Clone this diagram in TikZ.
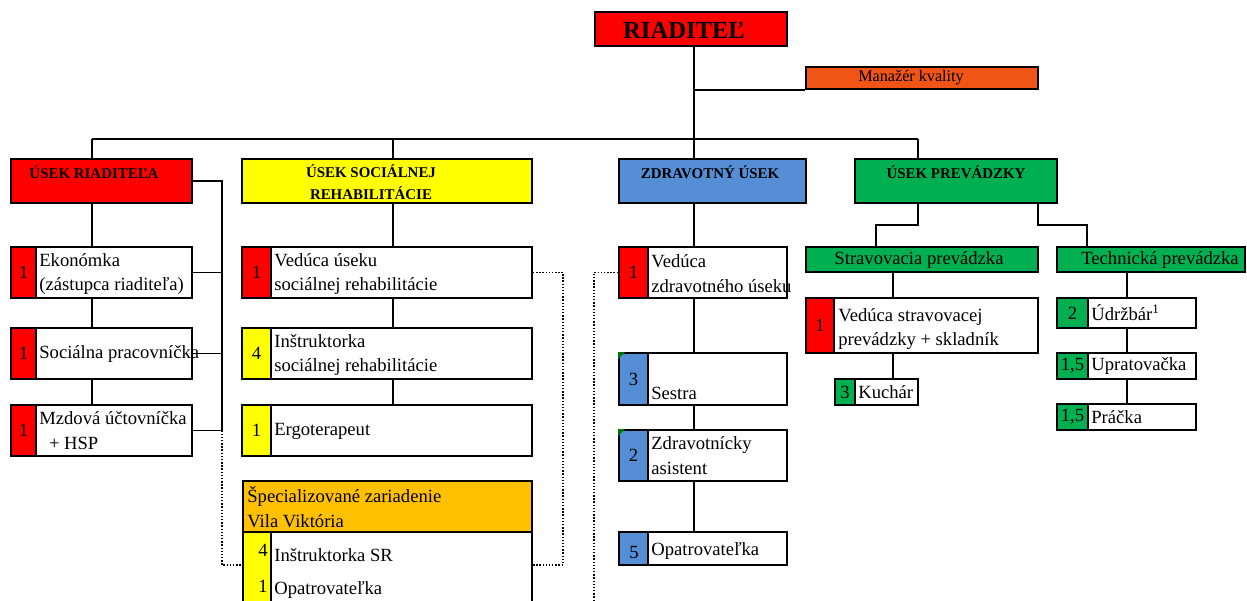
\documentclass[tikz,border=0pt]{standalone}
\usepackage{fontspec}
\setmainfont{Liberation Serif}
\usetikzlibrary{fit,positioning,calc}
\definecolor{cred}{RGB}{255,0,0}
\definecolor{cyellow}{RGB}{255,255,0}
\definecolor{cblue}{RGB}{85,142,213}
\definecolor{cgreen}{RGB}{0,176,80}
\definecolor{corange}{RGB}{240,84,22}
\definecolor{cgold}{RGB}{255,192,0}

\begin{document}
\begin{tikzpicture}[x=0.02cm, y=-0.02cm, font=\fontsize{10.6}{14.2}\selectfont,
  box/.style={draw,line width=1.1pt,inner sep=0pt,fill=white},
  strip/.style={draw,line width=1.1pt,inner sep=0pt,fill=#1},
  num/.style={inner sep=0pt},
  txt/.style={anchor=west,align=left,inner sep=0pt},
  head/.style={align=center,inner sep=0pt,font=\fontsize{8.5}{12.5}\selectfont\bfseries},
  link/.style={line width=1.1pt},
  dots/.style={densely dotted,line width=0.8pt}]
      \clip (0,0) rectangle (1247,600);

      \node[box,fill=cred,fit={(595,12) (787,46)}] (dir) {};
      \node[inner sep=0pt,font=\fontsize{14}{16}\selectfont\bfseries] (dirT) at (684,30) {RIADITEĽ};
      \node[box,fill=corange,fit={(806,67) (1038,89)}] (qm) {};
      \node[inner sep=0pt,font=\fontsize{9.2}{11}\selectfont] (qmT) at (911,78) {Manažér kvality};

      \node[box,fill=cred,fit={(11,159) (192,203)}] (usr) {};
      \node[head] (usrT) at (94,172) {ÚSEK RIADITEĽA};
      \node[box,fill=cyellow,fit={(242,159) (532,203)}] (uss) {};
      \node[head] (ussT) at (371,182) {ÚSEK SOCIÁLNEJ\\REHABILITÁCIE};
      \node[box,fill=cblue,fit={(619,159) (806,203)}] (usz) {};
      \node[head] (uszT) at (710,172) {ZDRAVOTNÝ ÚSEK};
      \node[box,fill=cgreen,fit={(855,159) (1057,203)}] (usp) {};
      \node[head] (uspT) at (956,172) {ÚSEK PREVÁDZKY};

      % usek riaditela
      \node[box,fit={(11,247) (192,298)}] (ekon) {};
      \node[strip=cred,fit={(11,247) (36,298)}] (ekonN) {};
      \node[num] (ekonL) at (ekonN) {1};
      \node[txt] (ekonT) at (39,274) {Ekonómka\\(zástupca riaditeľa)};
      \node[box,fit={(11,328) (192,379)}] (socp) {};
      \node[strip=cred,fit={(11,328) (36,379)}] (socpN) {};
      \node[num] (socpL) at (socpN) {1};
      \node[txt] (socpT) at (39,354) {Sociálna pracovníčka};
      \node[box,fit={(11,405) (192,456)}] (mzd) {};
      \node[strip=cred,fit={(11,405) (36,456)}] (mzdN) {};
      \node[num] (mzdL) at (mzdN) {1};
      \node[txt] (mzdT) at (39,431) {Mzdová účtovníčka\\\hspace*{5.5pt}+ HSP};

      % usek socialnej rehabilitacie
      \node[box,fit={(242,247) (532,298)}] (vsr) {};
      \node[strip=cred,fit={(242,247) (271,298)}] (vsrN) {};
      \node[num] (vsrL) at (vsrN) {1};
      \node[txt] (vsrT) at (274,274) {Vedúca úseku\\sociálnej rehabilitácie};
      \node[box,fit={(242,328) (532,379)}] (isr) {};
      \node[strip=cyellow,fit={(242,328) (271,379)}] (isrN) {};
      \node[num] (isrL) at (isrN) {4};
      \node[txt] (isrT) at (274,355) {Inštruktorka\\sociálnej rehabilitácie};
      \node[box,fit={(242,405) (532,456)}] (ergo) {};
      \node[strip=cyellow,fit={(242,405) (271,456)}] (ergoN) {};
      \node[num] (ergoL) at (ergoN) {1};
      \node[txt] (ergoT) at (274,431) {Ergoterapeut};

      \node[box,fill=cgold,fit={(243,481) (532,532)}] (vila) {};
      \node[txt] (vilaT) at (247,507) {Špecializované zariadenie\\Vila Viktória};
      \node[box,fit={(243,532) (532,620)}] (vilab) {};
      \node[strip=cyellow,fit={(243,532) (271,620)}] (vilaN) {};
      \node[txt,anchor=east] (vilaN1) at (268,550) {4};
      \node[txt,anchor=east] (vilaN2) at (268,586) {1};
      \node[txt] (vilaT1) at (274,555) {Inštruktorka SR};
      \node[txt] (vilaT2) at (274,590) {Opatrovateľka};

      % zdravotny usek
      \node[box,fit={(619,247) (787,298)}] (vzu) {};
      \node[strip=cred,fit={(619,247) (648,298)}] (vzuN) {};
      \node[num] (vzuL) at (vzuN) {1};
      \node[txt] (vzuT) at (651,274) {Vedúca\\zdravotného úseku};
      \node[box,fit={(619,353) (787,405)}] (ses) {};
      \node[strip=cblue,fit={(619,353) (648,405)}] (sesN) {};
      \node[num] (sesL) at (sesN) {3};
      \node[txt] (sesT) at (651,393) {Sestra};
      \node[box,fit={(619,430) (787,481)}] (zas) {};
      \node[strip=cblue,fit={(619,430) (648,481)}] (zasN) {};
      \node[num] (zasL) at (zasN) {2};
      \node[txt] (zasT) at (651,456) {Zdravotnícky\\asistent};
      \node[box,fit={(619,532) (787,565)}] (opa) {};
      \node[strip=cblue,fit={(619,532) (648,565)}] (opaN) {};
      \node[num] (opaL) at (634,552) {5};
      \node[txt] (opaT) at (651,551) {Opatrovateľka};
      \fill[green!45!black] (sesN.north west) -- ++(7,0) -- ++(-7,7) -- cycle;
      \fill[green!45!black] (zasN.north west) -- ++(7,0) -- ++(-7,7) -- cycle;

      % usek prevadzky
      \node[box,fill=cgreen,fit={(806,247) (1038,272)}] (strav) {};
      \node[inner sep=0pt] (stravT) at (919,260) {Stravovacia prevádzka};
      \node[box,fill=cgreen,fit={(1057,247) (1245,272)}] (tech) {};
      \node[inner sep=0pt] (techT) at (1160,260) {Technická prevádzka};
      \node[box,fit={(806,298) (1038,353)}] (vstr) {};
      \node[strip=cred,fit={(806,298) (834,353)}] (vstrN) {};
      \node[num] (vstrL) at (vstrN) {1};
      \node[txt] (vstrT) at (838,329) {Vedúca stravovacej\\prevádzky + skladník};
      \node[box,fit={(835,379) (918,405)}] (kuch) {};
      \node[strip=cgreen,fit={(835,379) (855,405)}] (kuchN) {};
      \node[num] (kuchL) at (kuchN) {3};
      \node[txt] (kuchT) at (858,392) {Kuchár};
      \node[box,fit={(1057,298) (1196,328)}] (udr) {};
      \node[strip=cgreen,fit={(1057,298) (1088,328)}] (udrN) {};
      \node[num] (udrL) at (udrN) {2};
      \node[txt] (udrT) at (1091,313) {Údržbár\textsuperscript{1}};
      \node[box,fit={(1057,353) (1196,379)}] (upr) {};
      \node[strip=cgreen,fit={(1057,353) (1088,379)}] (uprN) {};
      \node[num] (uprL) at (uprN) {1,5};
      \node[txt] (uprT) at (1091,366) {Upratovačka};
      \node[box,fit={(1057,404) (1196,430)}] (prac) {};
      \node[strip=cgreen,fit={(1057,404) (1088,430)}] (pracN) {};
      \node[num] (pracL) at (pracN) {1,5};
      \node[txt] (pracT) at (1091,417) {Práčka};

      \coordinate (bus) at (694,139);
      \coordinate (k1) at (92,0);
      \coordinate (k2) at (222,0);
      \coordinate (k3) at (0,565);
      \coordinate (ks) at (393,0);
      \coordinate (k4) at (563,0);
      \coordinate (k5) at (594,0);
      \coordinate (k5b) at (594,610);
      \coordinate (pa) at (918,225);
      \coordinate (pb) at (876,225);
      \coordinate (pc) at (1038,225);
      \coordinate (pd) at (1087,225);
      \coordinate (ps) at (893,0);
      \coordinate (pt) at (1127,0);

      \draw[link] (dir.south -| bus) -- (bus);
      \draw[link] (qm.south west -| bus) -- (qm.south west);
      \draw[link] (bus -| k1) -- (bus -| pa);
      \draw[link] (bus -| k1) -- (k1 |- usr.north);
      \draw[link] (bus -| ks) -- (ks |- uss.north);
      \draw[link] (bus) -- (bus |- usz.north);
      \draw[link] (bus -| pa) -- (pa |- usp.north);

      \draw[link] (k1 |- usr.south) -- (k1 |- ekon.north);
      \draw[link] (k1 |- ekon.south) -- (k1 |- socp.north);
      \draw[link] (k1 |- socp.south) -- (k1 |- mzd.north);
      \draw[link] (usr.east) -- (usr.east -| k2) -- (k2 |- mzd.east);
      \draw[link] (ekon.east) -- (ekon.east -| k2);
      \draw[link] (socp.east) -- (socp.east -| k2);
      \draw[link] (mzd.east) -- (mzd.east -| k2);
      \draw[dots] (k2 |- mzd.east) -- (k2 |- k3) -- (k3 -| vilab.west);
      \draw[dots] (vsr.east) -- (vsr.east -| k4) -- (k4 |- k3) -- (k3 -| vilab.east);
      \draw[dots] (vzu.west) -- (vzu.west -| k5) -- (k5b);

      \draw[link] (ks |- uss.south) -- (ks |- vsr.north);
      \draw[link] (ks |- vsr.south) -- (ks |- isr.north);
      \draw[link] (ks |- isr.south) -- (ks |- ergo.north);

      \draw[link] (bus |- usz.south) -- (bus |- vzu.north);
      \draw[link] (bus |- vzu.south) -- (bus |- ses.north);
      \draw[link] (bus |- ses.south) -- (bus |- zas.north);
      \draw[link] (bus |- zas.south) -- (bus |- opa.north);

      \draw[link] (pa |- usp.south) -- (pa) -- (pb) -- (pb |- strav.north);
      \draw[link] (pc |- usp.south) -- (pc) -- (pd) -- (pd |- tech.north);
      \draw[link] (ps |- strav.south) -- (ps |- vstr.north);
      \draw[link] (ps |- vstr.south) -- (ps |- kuch.north);
      \draw[link] (pt |- tech.south) -- (pt |- udr.north);
      \draw[link] (pt |- udr.south) -- (pt |- upr.north);
      \draw[link] (pt |- upr.south) -- (pt |- prac.north);
    \end{tikzpicture}
\end{document}
